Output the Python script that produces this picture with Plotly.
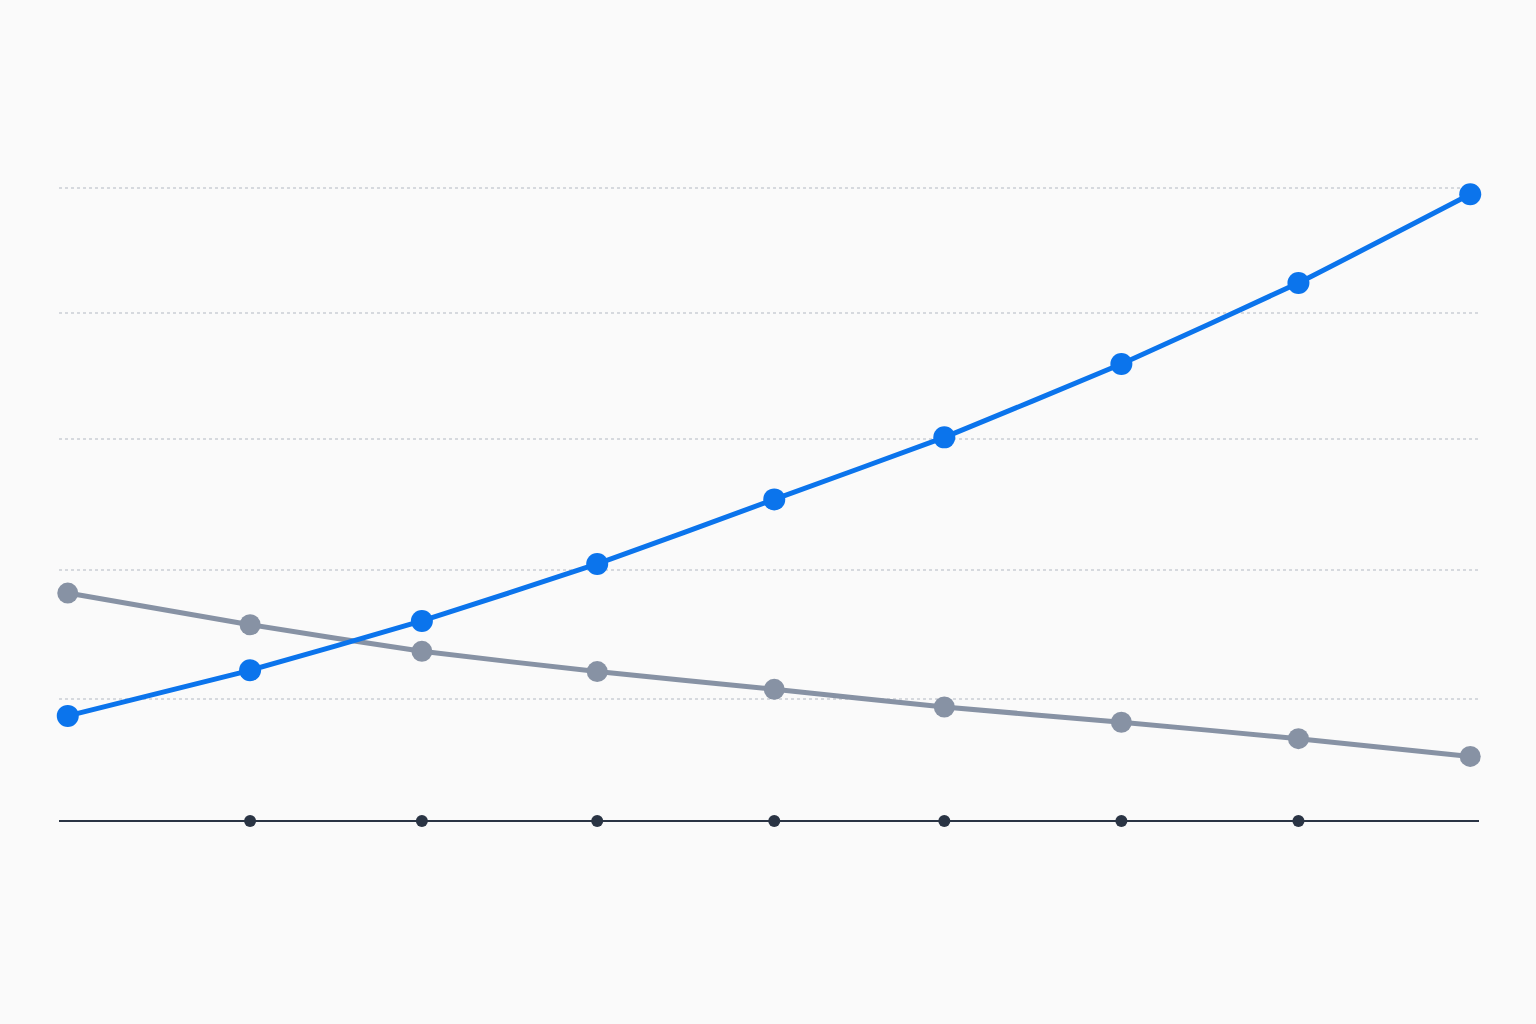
import plotly.graph_objects as go

# Data (no labels shown in the chart)
periods = [0, 1.04, 2.02, 3.02, 4.03, 5.0, 6.01, 7.02, 8.0]
series_rising = [0.83, 1.19, 1.58, 2.03, 2.54, 3.03, 3.61, 4.25, 4.95]
series_falling = [1.80, 1.55, 1.34, 1.18, 1.04, 0.90, 0.78, 0.65, 0.51]
tick_periods = periods[1:-1]
grid_values = [0.96, 1.98, 3.02, 4.01, 5.0]

BLUE = "#0B74EC"
GRAY = "#8792A4"
DARK = "#2A3444"
BG = "#FAFAFA"

fig = go.Figure()

fig.add_trace(go.Scatter(
    x=periods, y=series_falling, mode="lines+markers",
    line=dict(color=GRAY, width=5, shape="spline", smoothing=0.3),
    marker=dict(color=GRAY, size=21),
    showlegend=False, hoverinfo="skip", cliponaxis=False,
))
fig.add_trace(go.Scatter(
    x=periods, y=series_rising, mode="lines+markers",
    line=dict(color=BLUE, width=5, shape="spline", smoothing=0.3),
    marker=dict(color=BLUE, size=22),
    showlegend=False, hoverinfo="skip", cliponaxis=False,
))
fig.add_trace(go.Scatter(
    x=tick_periods, y=[0] * len(tick_periods), mode="markers",
    marker=dict(color=DARK, size=12),
    showlegend=False, hoverinfo="skip", cliponaxis=False,
))

fig.update_layout(
    width=1536, height=1024,
    paper_bgcolor=BG, plot_bgcolor=BG,
    margin=dict(l=59, r=57, t=150, b=150),
    xaxis=dict(range=[-0.05, 8.05], showgrid=False, zeroline=False,
               showticklabels=False, ticks="", showline=False),
    yaxis=dict(range=[-0.419, 5.30], tickvals=grid_values, showticklabels=False,
               ticks="", showgrid=True, gridcolor="#D6D9DE", gridwidth=1.5,
               griddash="3px,3px", zeroline=True, zerolinecolor=DARK,
               zerolinewidth=2, showline=False),
)

fig.write_html(
    "out.html",
    config={"displayModeBar": False},
    post_script="document.body.style.margin='0';document.body.style.background='#FAFAFA';document.body.style.overflow='hidden';",
)
